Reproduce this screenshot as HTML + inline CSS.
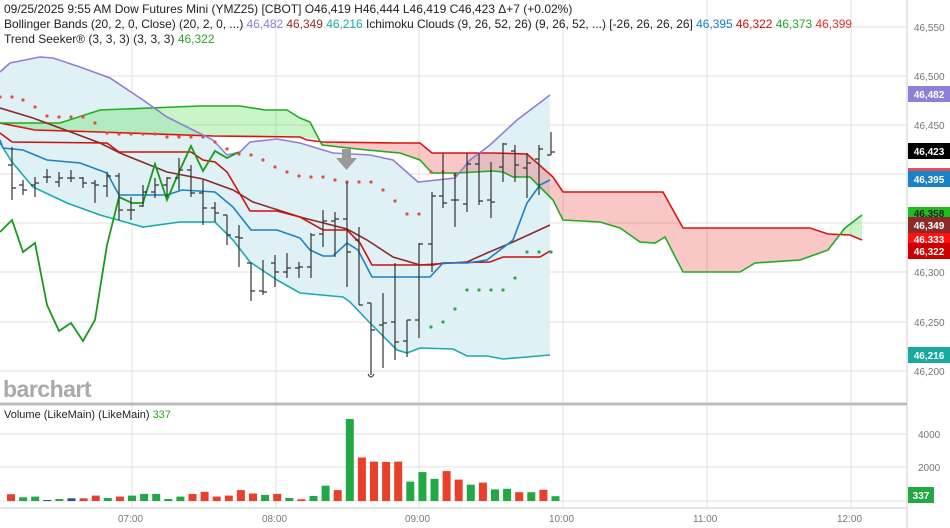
<!DOCTYPE html>
<html><head><meta charset="utf-8"><style>
html,body{margin:0;padding:0;background:#fff;width:950px;height:528px;overflow:hidden}
svg{display:block;font-family:"Liberation Sans",sans-serif}
</style></head><body>
<svg width="950" height="528" viewBox="0 0 950 528" xmlns="http://www.w3.org/2000/svg">
<!-- grid -->
<g stroke="#e0e0e0" stroke-width="1">
<line x1="0" y1="27" x2="907" y2="27"/><line x1="0" y1="76" x2="907" y2="76"/><line x1="0" y1="125" x2="907" y2="125"/><line x1="0" y1="174" x2="907" y2="174"/><line x1="0" y1="223" x2="907" y2="223"/><line x1="0" y1="272" x2="907" y2="272"/><line x1="0" y1="322" x2="907" y2="322"/><line x1="0" y1="371" x2="907" y2="371"/>
<line x1="0" y1="434" x2="907" y2="434"/><line x1="0" y1="467" x2="907" y2="467"/><line x1="0" y1="501" x2="907" y2="501"/>
<line x1="132" y1="0" x2="132" y2="508"/><line x1="276" y1="0" x2="276" y2="508"/><line x1="419" y1="0" x2="419" y2="508"/><line x1="563" y1="0" x2="563" y2="508"/><line x1="707" y1="0" x2="707" y2="508"/><line x1="851" y1="0" x2="851" y2="508"/>
</g>
<line x1="907" y1="0" x2="907" y2="528" stroke="#ccc"/>
<line x1="0" y1="404" x2="907" y2="404" stroke="#bbb" stroke-width="3"/>
<line x1="0" y1="508" x2="907" y2="508" stroke="#ccc"/>

<!-- bollinger fill -->
<polygon fill="#dff1f4" points="0,72 10,63 40,57 53,58 80,67 110,78 143,100 167,117 193,130 213,140 227,155 240,152 250,142 277,139 300,143 333,153 370,155 393,160 418,182 455,178 470,160 490,145 517,120 550,95 550,355 527,357 503,359 487,356 467,356 453,349 420,348 407,353 397,350 370,323 350,302 343,297 300,293 277,280 250,262 233,240 215,222 180,222 143,227 100,215 67,203 33,187 12,162 0,143"/>

<!-- cloud fills -->
<polygon fill="rgba(60,220,60,0.28)" points="0,123 60,123 100,110 150,108 200,106 240,106 265,110 287,110 300,118 310,122 318,139 300,137 213,136 100,132 35,130 0,123"/>
<polygon fill="rgba(240,70,70,0.3)" points="318,141 323,142 397,143 420,143 432,153 493,153 527,154 553,177 563,192 663,192 683,228 810,228 828,234 840,234 828,250 800,260 755,263 740,272 683,272 665,237 655,243 640,242 620,228 600,222 563,220 553,200 530,177 513,177 503,172 493,171 457,173 432,173 420,160 400,153 367,150 322,145 318,139"/>
<polygon fill="rgba(60,220,60,0.28)" points="840,234 845,228 862,215 862,240 850,235"/>

<!-- cloud lines -->
<polyline fill="none" stroke="#dd1111" stroke-width="1.6" points="0,123 35,130 100,132 213,136 300,137 307,140 323,142 397,143 420,143 432,153 493,153 527,154 553,177 563,192 663,192 683,228 810,228 828,234 850,235 862,240"/>
<polyline fill="none" stroke="#22aa22" stroke-width="1.6" points="0,123 60,123 100,110 150,108 200,106 240,106 265,110 287,110 300,118 310,122 322,145 367,150 400,153 420,160 432,173 457,173 493,171 503,172 513,177 530,177 553,200 563,220 600,222 620,228 640,242 655,243 665,237 683,272 740,272 755,263 800,260 828,250 845,228 862,215"/>

<!-- bollinger lines -->
<polyline fill="none" stroke="#8f7fd6" stroke-width="1.6" points="0,72 10,63 40,57 53,58 80,67 110,78 143,100 167,117 193,130 213,140 227,155 240,152 250,142 277,139 300,143 333,153 370,155 393,160 418,182 455,178 470,160 490,145 517,120 550,95"/>
<polyline fill="none" stroke="#1aa9b0" stroke-width="1.6" points="0,143 12,162 33,187 67,203 100,215 143,227 180,222 215,222 233,240 250,262 277,280 300,293 343,297 350,302 370,323 397,350 407,353 420,348 453,349 467,356 487,356 503,359 527,357 550,355"/>
<polyline fill="none" stroke="#8b2a2a" stroke-width="1.6" points="0,108 33,118 60,128 100,143 120,153 167,172 203,179 233,190 253,202 300,217 347,229 367,240 393,257 420,265 467,262 487,253 513,242 550,225"/>
<!-- kijun red -->
<polyline fill="none" stroke="#cc1111" stroke-width="1.6" points="0,133 12,142 107,143 119,152 191,152 203,160 215,162 227,172 250,211 277,211 300,217 323,230 347,230 360,243 372,265 433,265 443,263 490,262 503,257 540,257 550,251"/>
<!-- tenkan blue -->
<polyline fill="none" stroke="#1a80c8" stroke-width="1.6" points="0,140 3,148 23,150 47,160 80,163 107,173 119,195 167,195 182,190 215,192 233,207 251,230 277,230 300,238 310,250 323,256 333,256 347,243 358,250 372,277 430,277 443,263 467,263 487,260 513,240 527,203 540,185 550,180"/>
<!-- trend seeker -->
<polyline fill="none" stroke="#1a9a1a" stroke-width="1.8" points="0,232 12,220 23,252 35,243 47,305 59,331 71,323 83,341 95,320 107,245 119,197 132,203 143,203 155,164 167,200 179,172 191,146 203,171 215,151 227,158 239,152"/>

<!-- dots -->
<g fill="#e64a3a">
<circle cx="0" cy="97" r="1.6"/><circle cx="12" cy="97" r="1.6"/><circle cx="23" cy="100" r="1.6"/><circle cx="35" cy="107" r="1.6"/><circle cx="47" cy="116" r="1.6"/><circle cx="59" cy="117" r="1.6"/><circle cx="71" cy="117" r="1.6"/><circle cx="83" cy="117" r="1.6"/><circle cx="95" cy="123" r="1.6"/><circle cx="107" cy="133" r="1.6"/><circle cx="119" cy="134" r="1.6"/><circle cx="131" cy="134" r="1.6"/><circle cx="143" cy="134" r="1.6"/><circle cx="155" cy="134" r="1.6"/><circle cx="167" cy="137" r="1.6"/><circle cx="179" cy="137" r="1.6"/><circle cx="191" cy="137" r="1.6"/><circle cx="203" cy="137" r="1.6"/><circle cx="215" cy="142" r="1.6"/><circle cx="227" cy="149" r="1.6"/><circle cx="239" cy="154" r="1.6"/><circle cx="251" cy="155" r="1.6"/><circle cx="263" cy="160" r="1.6"/><circle cx="275" cy="167" r="1.6"/><circle cx="287" cy="172" r="1.6"/><circle cx="299" cy="176" r="1.6"/><circle cx="311" cy="177" r="1.6"/><circle cx="323" cy="177" r="1.6"/><circle cx="335" cy="180" r="1.6"/><circle cx="347" cy="182" r="1.6"/><circle cx="359" cy="182" r="1.6"/><circle cx="371" cy="182" r="1.6"/><circle cx="383" cy="190" r="1.6"/><circle cx="395" cy="201" r="1.6"/><circle cx="407" cy="214" r="1.6"/><circle cx="419" cy="214" r="1.6"/><circle cx="431" cy="172" r="1.6"/><circle cx="443" cy="172" r="1.6"/><circle cx="455" cy="175" r="1.6"/>
</g>
<g fill="#2aa84a">
<circle cx="431" cy="327" r="1.6"/><circle cx="443" cy="322" r="1.6"/><circle cx="455" cy="309" r="1.6"/><circle cx="467" cy="290" r="1.6"/><circle cx="479" cy="290" r="1.6"/><circle cx="491" cy="290" r="1.6"/><circle cx="503" cy="290" r="1.6"/><circle cx="515" cy="278" r="1.6"/><circle cx="527" cy="252" r="1.6"/><circle cx="539" cy="252" r="1.6"/><circle cx="551" cy="252" r="1.6"/>
</g>

<!-- OHLC bars -->
<path fill="none" stroke="#333" stroke-width="1.2" d="
M12 147V200M8 165H12M12 188H16
M23 180V195M19 185H23M23 190H27
M35 177V197M31 185H35M35 183H39
M47 169V183M43 177H47M47 177H51
M59 172V187M55 182H59M59 178H63
M71 170V182M67 178H71M71 178H75
M83 177V188M79 178H83M83 183H87
M95 180V203M91 183H95M95 185H99
M107 172V197M103 186H107M107 176H111
M119 173V220M115 176H119M119 210H123
M131 197V220M127 210H131M131 210H135
M143 185V207M139 206H143M143 192H147
M155 178V198M151 192H155M155 185H159
M167 177V197M163 185H167M167 178H171
M179 158V190M175 178H179M179 170H183
M191 165V197M187 170H191M191 193H195
M203 180V225M199 193H203M203 208H207
M215 202V222M211 208H215M215 213H219
M227 215V245M223 215H227M227 235H231
M239 225V267M235 237H239M239 238H243
M251 263V301M247 263H251M251 291H255
M263 260V295M259 291H263M263 292H267
M275 255V287M271 263H275M275 272H279
M287 253V278M283 272H287M287 268H291
M299 262V278M295 268H299M299 267H303
M311 233V278M307 267H311M311 235H315
M323 210V247M319 234H323M323 221H327
M335 212V257M331 221H335M335 219H339
M347 182V287M343 219H347M347 252H351
M359 227V305M355 240H359M359 305H363
M371 303V375M367 303H371M371 330H375
M383 293V368M379 325H383M383 323H387
M395 263V360M391 322H395M395 342H399
M407 320V357M403 341H407M407 320H411
M419 243V338M415 320H419M419 244H423
M432 192V272M428 244H432M432 196H436
M443 153V208M439 196H443M443 203H447
M455 173V227M451 200H455M455 200H459
M467 153V212M463 204H467M467 164H471
M479 153V205M475 164H479M479 201H483
M491 162V218M487 200H491M491 202H495
M503 143V182M499 167H503M503 144H507
M515 145V182M511 151H515M515 165H519
M527 153V198M523 168H527M527 163H531
M539 145V195M535 159H539M539 149H543
M551 132V155M547 155H551M551 152H555"/>
<path d="M368 374 Q371 380 374 374" fill="none" stroke="#333" stroke-width="1"/>

<!-- arrow -->
<rect x="342" y="149" width="9" height="9" fill="#999"/>
<polygon points="336,158 357,158 346.5,170" fill="#999"/>

<!-- watermark -->
<text x="3" y="397" font-size="23" fill="#aaa" font-weight="bold" letter-spacing="-0.5">barchart</text>

<!-- header -->
<g font-size="12" fill="#222">
<text x="4" y="13">09/25/2025  9:55 AM Dow Futures Mini (YMZ25) [CBOT] O46,419 H46,444 L46,419 C46,423 Δ+7 (+0.02%)</text>
<text x="4" y="28" textLength="848" lengthAdjust="spacingAndGlyphs">Bollinger Bands (20, 2, 0, Close)  (20, 2, 0, ...) <tspan fill="#8f7fd6">46,482</tspan> <tspan fill="#9b2d2d">46,349</tspan> <tspan fill="#1aa9b0">46,216</tspan> Ichimoku Clouds (9, 26, 52, 26)  (9, 26, 52, ...) [-26, 26, 26, 26] <tspan fill="#1a80c8">46,395</tspan> <tspan fill="#cc1111">46,322</tspan> <tspan fill="#22aa22">46,373</tspan> <tspan fill="#e03030">46,399</tspan></text>
<text x="4" y="43">Trend Seeker® (3, 3, 3)  (3, 3, 3) <tspan fill="#22aa22">46,322</tspan></text>
<text x="4" y="418" font-size="11">Volume (LikeMain)  (LikeMain) <tspan fill="#22aa22">337</tspan></text>
</g>

<!-- price axis labels -->
<g font-size="10" fill="#777">
<text x="914" y="31">46,550</text><text x="914" y="80">46,500</text><text x="914" y="129">46,450</text><text x="914" y="227">46,350</text><text x="914" y="276">46,300</text><text x="914" y="326">46,250</text><text x="914" y="375">46,200</text>
<text x="918" y="438">4000</text><text x="918" y="471">2000</text>
<text x="118" y="522">07:00</text><text x="262" y="522">08:00</text><text x="405" y="522">09:00</text><text x="549" y="522">10:00</text><text x="693" y="522">11:00</text><text x="837" y="522">12:00</text>
</g>

<!-- right value labels -->
<g font-size="10" font-weight="bold" fill="#fff" text-anchor="middle">
<rect x="908" y="86" width="42" height="16" fill="#8f7fd6"/><text x="929" y="98">46,482</text>
<rect x="908" y="143" width="42" height="16" fill="#000"/><text x="929" y="155">46,423</text>
<rect x="908" y="168" width="42" height="3" fill="#e05050"/>
<rect x="908" y="171" width="42" height="16" fill="#1a80c8"/><text x="929" y="183">46,395</text>
<rect x="908" y="207" width="42" height="12" fill="#22bb22"/><text x="929" y="217" fill="#222">46,358</text>
<rect x="908" y="217" width="42" height="16" fill="#8b2a2a"/><text x="929" y="229">46,349</text>
<rect x="908" y="233" width="42" height="12" fill="#ff1111"/><text x="929" y="243">46,333</text>
<rect x="908" y="243" width="42" height="16" fill="#c00"/><text x="929" y="255">46,322</text>
<rect x="908" y="347" width="42" height="16" fill="#1aa9a0"/><text x="929" y="359">46,216</text>
<rect x="908" y="487" width="26" height="16" fill="#22a844"/><text x="921" y="499">337</text>
</g>

<!-- volume -->
<g>
<rect x="7" y="494.2" width="8" height="6.8" fill="#e8402a"/>
<rect x="19.1" y="497.3" width="8" height="3.7" fill="#22a844"/>
<rect x="31.2" y="496.6" width="8" height="4.4" fill="#22a844"/>
<rect x="43.3" y="500" width="8" height="1" fill="#2a4fa0"/>
<rect x="55.4" y="499" width="8" height="2" fill="#22a844"/>
<rect x="67.5" y="498.3" width="8" height="2.7" fill="#2a4fa0"/>
<rect x="79.6" y="498.3" width="8" height="2.7" fill="#e8402a"/>
<rect x="91.7" y="495.6" width="8" height="5.4" fill="#e8402a"/>
<rect x="103.8" y="498" width="8" height="3" fill="#22a844"/>
<rect x="115.9" y="496.6" width="8" height="4.4" fill="#e8402a"/>
<rect x="128" y="495.6" width="8" height="5.4" fill="#22a844"/>
<rect x="140.1" y="493.9" width="8" height="7.1" fill="#22a844"/>
<rect x="152.2" y="493.9" width="8" height="7.1" fill="#22a844"/>
<rect x="164.3" y="499" width="8" height="2" fill="#22a844"/>
<rect x="176.4" y="496.6" width="8" height="4.4" fill="#22a844"/>
<rect x="188.5" y="493.9" width="8" height="7.1" fill="#e8402a"/>
<rect x="200.6" y="491.8" width="8" height="9.2" fill="#e8402a"/>
<rect x="212.7" y="496.6" width="8" height="4.4" fill="#e8402a"/>
<rect x="224.8" y="495.6" width="8" height="5.4" fill="#e8402a"/>
<rect x="236.9" y="490.1" width="8" height="10.9" fill="#e8402a"/>
<rect x="249" y="493.5" width="8" height="7.5" fill="#e8402a"/>
<rect x="261.1" y="494.9" width="8" height="6.1" fill="#22a844"/>
<rect x="273.2" y="493.9" width="8" height="7.1" fill="#e8402a"/>
<rect x="285.3" y="498" width="8" height="3" fill="#22a844"/>
<rect x="297.4" y="499.3" width="8" height="1.7" fill="#e8402a"/>
<rect x="309.5" y="495.9" width="8" height="5.1" fill="#22a844"/>
<rect x="321.6" y="485.7" width="8" height="15.3" fill="#22a844"/>
<rect x="333.7" y="490.1" width="8" height="10.9" fill="#e8402a"/>
<rect x="345.8" y="419" width="8" height="82" fill="#22a844"/>
<rect x="357.9" y="457.5" width="8" height="43.5" fill="#e8402a"/>
<rect x="370" y="461.6" width="8" height="39.4" fill="#e8402a"/>
<rect x="382.1" y="461.9" width="8" height="39.1" fill="#e8402a"/>
<rect x="394.2" y="461.6" width="8" height="39.4" fill="#e8402a"/>
<rect x="406.3" y="481.6" width="8" height="19.4" fill="#22a844"/>
<rect x="418.4" y="472.1" width="8" height="28.9" fill="#22a844"/>
<rect x="430.5" y="478.9" width="8" height="22.1" fill="#22a844"/>
<rect x="442.6" y="471.1" width="8" height="29.9" fill="#e8402a"/>
<rect x="454.7" y="479.6" width="8" height="21.4" fill="#e8402a"/>
<rect x="466.8" y="484.7" width="8" height="16.3" fill="#22a844"/>
<rect x="478.9" y="482.6" width="8" height="18.4" fill="#e8402a"/>
<rect x="491" y="489.4" width="8" height="11.6" fill="#22a844"/>
<rect x="503.1" y="488.8" width="8" height="12.2" fill="#22a844"/>
<rect x="515.2" y="492.2" width="8" height="8.8" fill="#e8402a"/>
<rect x="527.3" y="492.2" width="8" height="8.8" fill="#22a844"/>
<rect x="539.4" y="489.8" width="8" height="11.2" fill="#e8402a"/>
<rect x="551.5" y="496.2" width="8" height="4.8" fill="#22a844"/>
</g>
</svg>
</body></html>
